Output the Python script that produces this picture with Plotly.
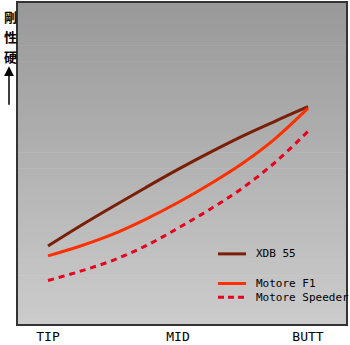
import plotly.graph_objects as go

# Data (stiffness profile along the shaft)
positions = [0.0, 0.25, 0.5, 0.75, 1.0, 1.25, 1.5, 1.75, 2.0]
tick_labels = ["TIP", "MID", "BUTT"]
tick_vals = [0, 1, 2]
xdb55 = [79, 99.5, 119, 138, 156.5, 174, 190.5, 205.5, 220]
motore_f1 = [69, 79, 91, 106, 123, 142, 163, 188, 218.5]
motore_speeder = [44, 53.5, 64.5, 79, 97, 116.5, 138, 164, 195]
series_names = ["XDB 55", "Motore F1", "Motore Speeder"]
axis_label_chars = ["剛", "性", "硬"]

W, H = 350, 345
ml, mr, mt, mb = 18, 4, 1, 19
pw, ph = W - ml - mr, H - mt - mb

def px2paper_x(px):
    return (px - ml) / pw

def px2paper_y(py):
    return 1 - (py - mt) / ph

fig = go.Figure()
styles = [
    dict(color="#7a1e08", width=3),
    dict(color="#ff3000", width=3),
    dict(color="#e8001c", width=3, dash="6px,5px"),
]
for name, ys, st in zip(series_names, [xdb55, motore_f1, motore_speeder], styles):
    fig.add_trace(go.Scatter(x=positions, y=ys, mode="lines", name=name,
                             line=dict(shape="spline", smoothing=1.0, **st),
                             showlegend=False))

# gradient background bands
shapes = []
n = 60
top = (153, 153, 153)
bot = (203, 203, 203)
for i in range(n):
    t = i / (n - 1)
    c = tuple(int(round(top[k] + (bot[k] - top[k]) * t)) for k in range(3))
    shapes.append(dict(type="rect", xref="paper", yref="paper", x0=0, x1=1,
                       y0=1 - (i + 1) / n, y1=1 - i / n + 0.002,
                       fillcolor="rgb(%d,%d,%d)" % c, line=dict(width=0), layer="below"))

# legend samples
legend_rows = [(255, styles[0]), (285, styles[1]), (299, styles[2])]
annotations = []
for (py, st), name in zip(legend_rows, series_names):
    shapes.append(dict(type="line", xref="paper", yref="paper",
                       x0=px2paper_x(218), x1=px2paper_x(246),
                       y0=px2paper_y(py), y1=px2paper_y(py),
                       line=dict(color=st["color"], width=3,
                                 dash="6px,4px" if "dash" in st else "solid")))
    annotations.append(dict(text=name, xref="paper", yref="paper",
                            x=px2paper_x(254), y=px2paper_y(py), xanchor="left",
                            yanchor="middle", showarrow=False,
                            font=dict(family="DejaVu Sans Mono", size=11, color="#000")))

# y axis label: vertical characters with up arrow
for ch, py in zip(axis_label_chars, [15, 35, 55]):
    annotations.append(dict(text="<b>%s</b>" % ch, xref="paper", yref="paper",
                            x=px2paper_x(10), y=px2paper_y(py), xanchor="center",
                            yanchor="middle", showarrow=False,
                            font=dict(family="Noto Sans CJK JP", size=13, color="#000")))
annotations.append(dict(text="", xref="paper", yref="paper",
                        x=px2paper_x(9), y=px2paper_y(65),
                        ax=0, ay=40, axref="pixel", ayref="pixel",
                        showarrow=True, arrowhead=2, arrowsize=1.3, arrowwidth=1.5,
                        arrowcolor="#000"))

fig.update_layout(
    width=W, height=H,
    margin=dict(l=ml, r=mr, t=mt, b=mb),
    paper_bgcolor="white",
    plot_bgcolor="rgba(0,0,0,0)",
    showlegend=False,
    shapes=shapes,
    annotations=annotations,
    xaxis=dict(range=[-30 / 130, 2 + 38 / 130], tickvals=tick_vals, ticktext=tick_labels,
               showgrid=False, zeroline=False, showline=True, mirror=True,
               linecolor="#333", linewidth=1.5, ticks="", ticklen=0,
               tickfont=dict(family="DejaVu Sans Mono", size=13, color="#000")),
    yaxis=dict(range=[0, 325], showticklabels=False, showgrid=False, zeroline=False,
               showline=True, mirror=True, linecolor="#333", linewidth=1.5, ticks=""),
)

fig.write_html("out.html")
